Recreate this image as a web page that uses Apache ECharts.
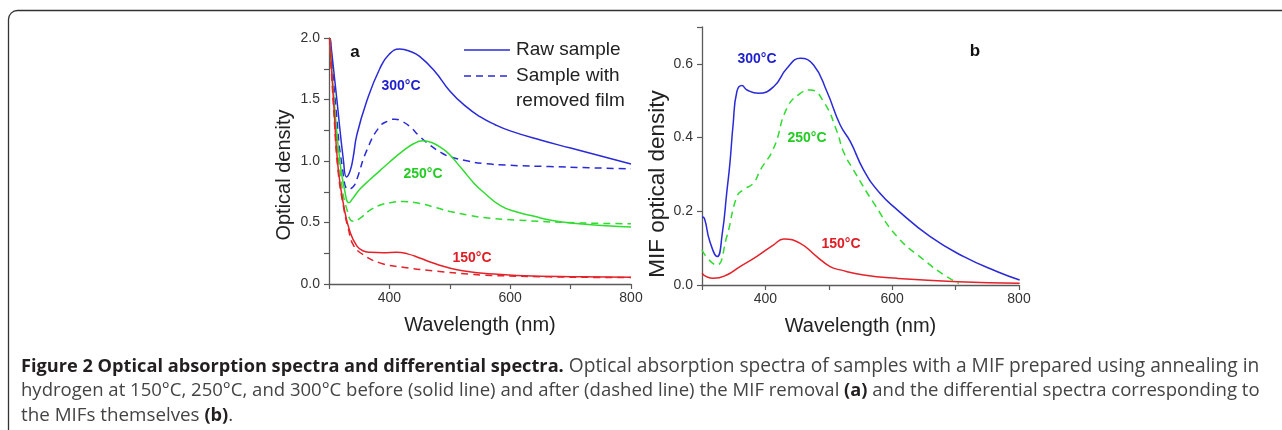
<!DOCTYPE html>
<html>
<head>
<meta charset="utf-8">
<script src="https://cdn.jsdelivr.net/npm/echarts@6/dist/echarts.min.js"></script>
<style>
html,body{margin:0;padding:0;background:#fff;}
#chart{width:1282px;height:430px;}
</style>
</head>
<body>
<div id="chart"></div>
<script>
// ---------- Panel (a): optical density vs wavelength (nm) ----------
const rawBlue300 = [[302,2.0],[313,1.5],[324,1.0],[329,0.87],[335,0.92],[340,1.03],[346,1.21],[362,1.48],[384,1.75],[400,1.87],[417,1.91],[435,1.89],[450,1.85],[475,1.73],[500,1.57],[525,1.45],[550,1.36],[575,1.295],[600,1.245],[650,1.17],[700,1.105],[750,1.04],[800,0.975]];
const filmBlue300 = [[302,2.0],[312,1.4],[322,0.95],[332,0.77],[340,0.79],[346,0.85],[362,1.08],[384,1.28],[400,1.33],[409,1.34],[420,1.325],[434,1.28],[450,1.2],[467,1.13],[485,1.07],[500,1.035],[530,1.0],[555,0.98],[600,0.965],[665,0.955],[730,0.945],[800,0.936]];
const rawGreen250 = [[301,2.0],[310,1.4],[318,1.0],[326,0.76],[333,0.66],[340,0.7],[351,0.77],[368,0.85],[384,0.92],[400,0.99],[422,1.08],[440,1.14],[455,1.165],[470,1.15],[488,1.1],[500,1.05],[521,0.93],[540,0.82],[555,0.75],[583,0.64],[611,0.585],[640,0.55],[665,0.52],[693,0.5],[720,0.487],[760,0.473],[800,0.463]];
const filmGreen250 = [[301,2.0],[310,1.35],[320,0.85],[330,0.6],[340,0.51],[350,0.53],[368,0.6],[384,0.64],[400,0.66],[422,0.67],[450,0.655],[478,0.62],[500,0.59],[530,0.56],[555,0.54],[611,0.52],[693,0.5],[800,0.49]];
const rawRed150 = [[301,2.0],[308,1.45],[315,0.95],[325,0.62],[335,0.42],[346,0.31],[356,0.27],[368,0.258],[390,0.255],[412,0.258],[430,0.245],[450,0.212],[470,0.175],[489,0.144],[510,0.118],[533,0.1],[555,0.088],[611,0.069],[720,0.058],[800,0.055]];
const filmRed150 = [[301,2.0],[308,1.4],[315,0.92],[325,0.6],[332,0.45],[340,0.32],[356,0.24],[384,0.172],[422,0.136],[478,0.104],[533,0.08],[555,0.072],[665,0.058],[800,0.052]];

// ---------- Panel (b): MIF optical density (differential spectra) ----------
const mifBlue300 = [[300,0.185],[304,0.18],[312,0.12],[324,0.077],[332,0.14],[339,0.25],[344,0.33],[349,0.434],[355,0.525],[363,0.541],[371,0.529],[389,0.52],[413,0.538],[434,0.588],[455,0.615],[476,0.597],[497,0.525],[518,0.434],[534,0.389],[555,0.312],[580,0.25],[608,0.204],[660,0.131],[713,0.077],[766,0.036],[801,0.0136]];
const mifGreen250 = [[300,0.095],[310,0.07],[323,0.054],[339,0.131],[355,0.24],[365,0.258],[381,0.276],[392,0.312],[413,0.371],[434,0.48],[455,0.52],[471,0.529],[492,0.497],[513,0.416],[523,0.362],[539,0.312],[571,0.222],[608,0.131],[650,0.068],[682,0.027],[700,0.009],[705,0.004]];
const mifRed150 = [[300,0.032],[307,0.0226],[318,0.018],[339,0.027],[360,0.05],[386,0.077],[413,0.109],[429,0.125],[455,0.113],[481,0.077],[502,0.05],[518,0.041],[555,0.027],[608,0.018],[703,0.009],[801,0.005]];

const xTickLabelsA = [400, 600, 800];
const yTickLabelsA = [0.0, 0.5, 1.0, 1.5, 2.0];
const xTickLabelsB = [400, 600, 800];
const yTickLabelsB = [0.0, 0.2, 0.4, 0.6];

const BLUE = '#2a2ad8', GREEN = '#2fdc2f', RED = '#e4222a';
const BLUE_T = '#1e1ecf', GREEN_T = '#22cc22', RED_T = '#e01c24';
const AX = '#5a5a5a', TXT = '#222';
const FONT = '"Liberation Sans", Arial, sans-serif';

function near(v, list){ return list.some(t => Math.abs(t - v) < 1e-6); }

function xAxisCfg(gridIndex, labels){
  return {
    type:'value', gridIndex, min:300, max:800, interval:100,
    name:'Wavelength (nm)', nameLocation:'middle', nameGap:31,
    nameTextStyle:{fontFamily:FONT, fontSize:20, color:TXT},
    axisLine:{show:true, onZero:false, lineStyle:{color:AX, width:1.3}},
    axisTick:{show:true, length:5, lineStyle:{color:AX, width:1.2}},
    axisLabel:{fontFamily:FONT, fontSize:14, color:'#333', margin:7,
      formatter: v => near(v, labels) ? String(v) : ''},
    splitLine:{show:false}
  };
}
function yAxisCfg(gridIndex, max, interval, labels, name, gap, pad, fs){
  return {
    type:'value', gridIndex, min:0, max, interval,
    name, nameLocation:'middle', nameGap:gap, nameRotate:90,
    nameTextStyle:{fontFamily:FONT, fontSize:fs, color:TXT, padding:[0,pad,0,0]},
    axisLine:{show:true, onZero:false, lineStyle:{color:AX, width:1.3}},
    axisTick:{show:true, length:5, lineStyle:{color:AX, width:1.2}},
    axisLabel:{fontFamily:FONT, fontSize:14, color:'#333', margin:9, showMaxLabel:true,
      formatter: v => near(v, labels) ? v.toFixed(1) : ''},
    splitLine:{show:false}
  };
}
function line(data, color, dashed, xi, yi){
  return {
    type:'line', data, xAxisIndex:xi, yAxisIndex:yi, symbol:'none',
    smooth:0.5, clip:true,
    lineStyle:{color, width:1.5, type: dashed ? [7,5] : 'solid'},
    silent:true, animation:false
  };
}
function label(x, y, text, color, size, bold){
  return {type:'text', x, y, style:{text, fill:color, font:(bold?'bold ':'')+size+'px '+FONT, textAlign:'center', textVerticalAlign:'middle'}};
}

const chart = echarts.init(document.getElementById('chart'));
const CAPF = '"Open Sans", "Noto Sans", sans-serif';
const capRich = {
  b:{fontFamily:CAPF, fontSize:18.2, fontWeight:'bold', fill:'#231f20'},
  r1:{fontFamily:CAPF, fontSize:19.2, fontWeight:'normal', fill:'#444'},
  r2:{fontFamily:CAPF, fontSize:18.55, fontWeight:'normal', fill:'#444'},
  r3:{fontFamily:CAPF, fontSize:18.8, fontWeight:'normal', fill:'#444'}
};
function capLine(y, text){
  return {type:'text', x:21, y, style:{text, rich:capRich, textVerticalAlign:'middle', textAlign:'left'}};
}

chart.setOption({
  animation:false,
  backgroundColor:'#fff',
  grid:[
    {left:329, right:651, top:38, bottom:146},
    {left:702, right:263, top:27, bottom:145}
  ],
  xAxis:[ xAxisCfg(0, xTickLabelsA), xAxisCfg(1, xTickLabelsB) ],
  yAxis:[
    yAxisCfg(0, 2, 0.25, yTickLabelsA, 'Optical density', 35, 28, 20),
    yAxisCfg(1, 0.7, 0.2, yTickLabelsB, 'MIF optical density', 33, 56, 22.5)
  ],
  series:[
    line(rawBlue300, BLUE, false, 0, 0),
    line(filmBlue300, BLUE, true, 0, 0),
    line(rawGreen250, GREEN, false, 0, 0),
    line(filmGreen250, GREEN, true, 0, 0),
    line(rawRed150, RED, false, 0, 0),
    line(filmRed150, RED, true, 0, 0),
    line(mifBlue300, BLUE, false, 1, 1),
    line(mifGreen250, GREEN, true, 1, 1),
    line(mifRed150, RED, false, 1, 1)
  ],
  graphic:[
    {type:'rect', shape:{x:8.5, y:10.5, width:1400, height:500, r:9}, style:{fill:'none', stroke:'#333', lineWidth:1.3}, silent:true},
    label(355, 52, 'a', '#111', 17, true),
    label(975, 51, 'b', '#111', 17, true),
    label(401, 86, '300°C', BLUE_T, 14, true),
    label(423, 174, '250°C', GREEN_T, 14, true),
    label(472, 258, '150°C', RED_T, 14, true),
    label(757, 59, '300°C', BLUE_T, 14, true),
    label(807, 138, '250°C', GREEN_T, 14, true),
    label(841, 244, '150°C', RED_T, 14, true),
    {type:'line', shape:{x1:464, y1:50, x2:510, y2:50}, style:{stroke:BLUE, lineWidth:1.5}},
    {type:'line', shape:{x1:464, y1:76, x2:510, y2:76}, style:{stroke:BLUE, lineWidth:1.5, lineDash:[7,5]}},
    {type:'text', x:516, y:50, style:{text:'Raw sample', fill:TXT, font:'19px '+FONT, textVerticalAlign:'middle'}},
    {type:'text', x:516, y:76, style:{text:'Sample with', fill:TXT, font:'19px '+FONT, textVerticalAlign:'middle'}},
    {type:'text', x:516, y:101, style:{text:'removed film', fill:TXT, font:'19px '+FONT, textVerticalAlign:'middle'}},
    capLine(367, '{b|Figure 2 Optical absorption spectra and differential spectra.}{r1| Optical absorption spectra of samples with a MIF prepared using annealing in}'),
    capLine(391, '{r2|hydrogen at 150°C, 250°C, and 300°C before (solid line) and after (dashed line) the MIF removal }{b|(a)}{r2| and the differential spectra corresponding to}'),
    capLine(416, '{r3|the MIFs themselves }{b|(b)}{r3|.}')
  ]
});
</script>
</body>
</html>
